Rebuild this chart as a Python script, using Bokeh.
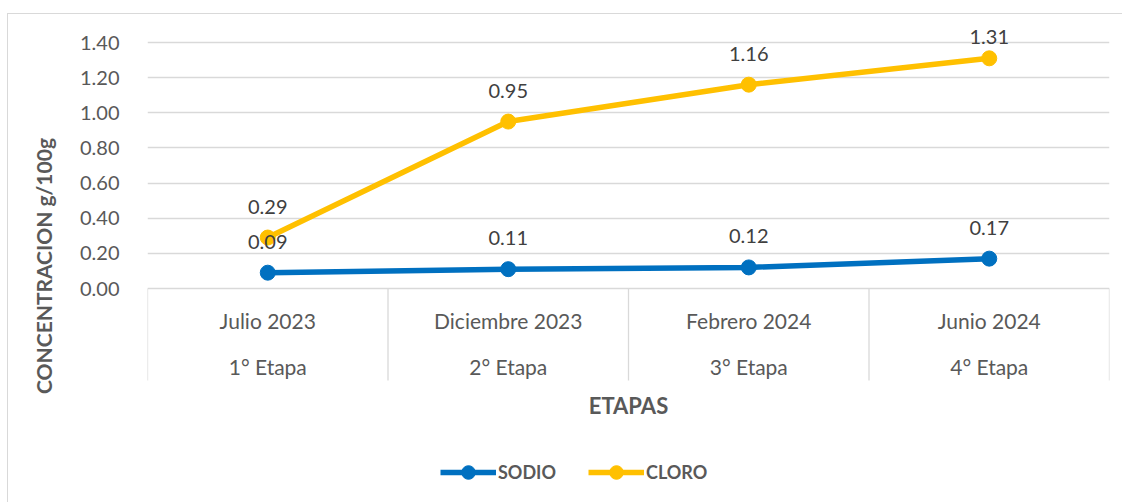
import math
from bokeh.plotting import figure
from bokeh.models import (FactorRange, Range1d, FixedTicker, NumeralTickFormatter,
                          Legend, LegendItem, Label, ColumnDataSource)
from bokeh.core.properties import value
from bokeh.embed import file_html
from bokeh.resources import INLINE

# ---- data ----
meses = ["Julio 2023", "Diciembre 2023", "Febrero 2024", "Junio 2024"]
etapas = ["1° Etapa", "2° Etapa", "3° Etapa", "4° Etapa"]
sodio = [0.09, 0.11, 0.12, 0.17]
cloro = [0.29, 0.95, 1.16, 1.31]
y_ticks = [0.0, 0.2, 0.4, 0.6, 0.8, 1.0, 1.2, 1.4]

FONT = "Lato"
TXT = "#595959"
LBL = "#404040"
GRID = "#d9d9d9"
BLUE = "#0070C0"
GOLD = "#FFC000"

# layout (page pixels)
F_TOP, F_ZERO, F_MAX, F_BOT = 28, 288, 42, 503
scale = (F_ZERO - F_MAX) / 1.4  # px per unit
CAT_BOT = 380

p = figure(
    width=1115, height=F_BOT - 14,
    x_range=FactorRange(factors=meses, range_padding=0),
    y_range=Range1d(-(F_BOT - F_ZERO) / scale, 1.4 + (F_MAX - F_TOP) / scale),
    x_axis_location=None,
    output_backend="svg", toolbar_location=None,
    min_border_left=139, min_border_right=14, min_border_top=F_TOP - 14,
    min_border_bottom=0,
)
p.styles = {"margin-left": "7px", "margin-top": "13px",
            "border-top": "1px solid #d9d9d9", "border-left": "1px solid #d9d9d9"}
p.outline_line_color = None
p.xgrid.visible = False

ax = p.yaxis[0]
ax.ticker = FixedTicker(ticks=y_ticks)
ax.formatter = NumeralTickFormatter(format="0.00")
ax.axis_line_color = None
ax.major_tick_line_color = None
ax.minor_tick_line_color = None
ax.major_label_standoff = 22
ax.major_label_text_font = FONT
ax.major_label_text_font_size = "20px"
ax.major_label_text_color = TXT
ax.axis_label = "CONCENTRACION g/100g"
ax.axis_label_standoff = 21
ax.axis_label_text_font = FONT
ax.axis_label_text_font_size = "21px"
ax.axis_label_text_font_style = "bold"
ax.axis_label_text_color = TXT

p.ygrid.ticker = FixedTicker(ticks=y_ticks)
p.ygrid.grid_line_color = GRID
p.ygrid.grid_line_width = 1.3

# category dividers
bounds_x = [(m, -0.5) for m in meses] + [(meses[-1], 0.5)]
p.segment(x0=bounds_x, x1=bounds_x, y0=[0] * 5,
          y1=[-(CAT_BOT - F_ZERO) / scale] * 5,
          line_color=GRID, line_width=1.3)

# category labels
p.text(x=meses, y=[0] * 4, text=meses, y_offset=32, text_align="center",
       text_baseline="middle", text_font=value(FONT), text_font_size="21px",
       text_color=TXT)
p.text(x=meses, y=[0] * 4, text=etapas, y_offset=78, text_align="center",
       text_baseline="middle", text_font=value(FONT), text_font_size="21px",
       text_color=TXT)


def label_offsets(vals):
    # labels sit above the point, but are kept inside the plot area
    out = []
    for v in vals:
        py = F_ZERO - v * scale
        base = py - 31
        if base - 16 < F_TOP:
            base = F_MAX - 6
        out.append(base - py)
    return out


# series
src_s = ColumnDataSource(dict(x=meses, y=sodio, t=[f"{v:.2f}" for v in sodio],
                              off=label_offsets(sodio)))
src_c = ColumnDataSource(dict(x=meses, y=cloro, t=[f"{v:.2f}" for v in cloro],
                              off=label_offsets(cloro)))

ls = p.line("x", "y", source=src_s, line_color=BLUE, line_width=5.5)
ms = p.scatter("x", "y", source=src_s, size=15, fill_color=BLUE, line_color=BLUE)
lc = p.line("x", "y", source=src_c, line_color=GOLD, line_width=5.5)
mc = p.scatter("x", "y", source=src_c, size=15, fill_color=GOLD, line_color=GOLD)

for src in (src_s, src_c):
    p.text("x", "y", text="t", source=src, y_offset="off", text_align="center",
           text_baseline="alphabetic", text_font=value(FONT),
           text_font_size="20px", text_color=LBL)

# x title
p.add_layout(Label(x=481, y=F_BOT - 405, x_units="screen", y_units="screen",
                   text="ETAPAS", text_align="center", text_baseline="middle",
                   text_font=FONT, text_font_size="22px",
                   text_font_style="bold", text_color=TXT))

legend = Legend(items=[LegendItem(label="SODIO", renderers=[ls, ms]),
                       LegendItem(label="CLORO", renderers=[lc, mc])],
                location=(293, F_BOT - 472 - 17), orientation="horizontal",
                glyph_width=56, glyph_height=34, label_height=34,
                label_standoff=2, spacing=32, padding=0, margin=0,
                border_line_color=None, background_fill_alpha=0,
                label_text_font=FONT, label_text_font_size="18px",
                label_text_font_style="bold", label_text_color=TXT)
p.add_layout(legend, "center")

open("out.html", "w").write(file_html(p, INLINE))
